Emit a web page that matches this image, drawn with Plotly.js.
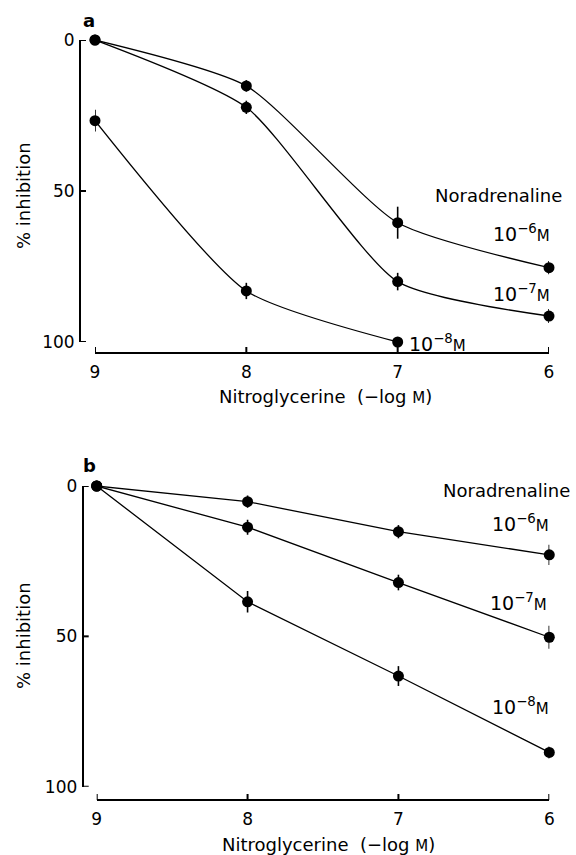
<!DOCTYPE html>
<html>
<head>
<meta charset="utf-8">
<script src="https://cdn.plot.ly/plotly-3.0.1.min.js"></script>
<style>html,body{margin:0;padding:0;background:#fff}#chart{width:576px;height:855px}</style>
</head>
<body>
<div id="chart"></div>
<script>
// ---- data ----
const conc = [9, 8, 7, 6];            // nitroglycerine (-log M)
const concA8 = [9, 8, 7];
const xTicks = [9, 8, 7, 6];
const xTickLabels = ['9', '8', '7', '6'];
const yTicks = [0, 50, 100];
const yTickLabels = ['0', '50', '100'];

// panel a
const a6 = [0, 15.2, 60.5, 75.4];
const a6err = [0, 1.9, 5.3, 2.2];
const a7 = [0, 22.3, 80.0, 91.4];
const a7err = [0, 2.2, 2.9, 2.3];
const a8 = [26.7, 83.1, 100];
const a8err = [3.6, 2.7, 0];

// panel b
const b6 = [0, 5.2, 15.2, 22.9];
const b6err = [0, 2.0, 2.2, 3.4];
const b7 = [0, 13.7, 32.1, 50.3];
const b7err = [0, 2.5, 2.6, 3.8];
const b8 = [0, 38.5, 63.2, 88.6];
const b8err = [0, 3.6, 3.3, 2.0];

const seriesLabels = ['10<sup>−6</sup><span style="font-size:15px">M</span>',
                      '10<sup>−7</sup><span style="font-size:15px">M</span>',
                      '10<sup>−8</sup><span style="font-size:15px">M</span>'];
const legendTitle = 'Noradrenaline';
const xTitle = 'Nitroglycerine  (−log <span style="font-size:15px">M</span>)';
const yTitle = '% inhibition';

// ---- helpers (pixel -> paper) ----
const W = 576, H = 855;
const px = v => v / W;
const py = v => 1 - v / H;
const FONT = 'DejaVu Sans, sans-serif';

function tr(xv, yv, ev, xa, ya, spline) {
  return {
    x: xv, y: yv, xaxis: xa, yaxis: ya, type: 'scatter', mode: 'lines+markers',
    cliponaxis: false, showlegend: false, hoverinfo: 'skip',
    line: {color: '#000', width: 1.3, shape: spline ? 'spline' : 'linear', smoothing: 0.6},
    marker: {color: '#000', size: 11, symbol: 'circle'},
    error_y: {type: 'data', array: ev, visible: true, color: '#000', thickness: 1.6, width: 0}
  };
}

const data = [
  tr(conc, a6, a6err, 'x', 'y', true),
  tr(conc, a7, a7err, 'x', 'y', true),
  tr(concA8, a8, a8err, 'x', 'y', true),
  tr(conc, b6, b6err, 'x2', 'y2', false),
  tr(conc, b7, b7err, 'x2', 'y2', false),
  tr(conc, b8, b8err, 'x2', 'y2', false)
];

function xax(dom, pos) {
  return {
    domain: dom, anchor: 'free', position: pos, range: [9, 6],
    tickmode: 'array', tickvals: xTicks, ticktext: xTickLabels,
    ticks: '', showline: true, linecolor: '#000', linewidth: 2,
    showgrid: false, zeroline: false, fixedrange: true,
    tickfont: {family: FONT, size: 17, color: '#000'}, ticklabelstandoff: 4
  };
}
function yax(dom, pos) {
  return {
    domain: dom, anchor: 'free', position: pos, range: [100, 0],
    tickmode: 'array', tickvals: yTicks, ticktext: yTickLabels,
    ticks: '', showline: true, linecolor: '#000', linewidth: 2,
    showgrid: false, zeroline: false, fixedrange: true,
    tickfont: {family: FONT, size: 17, color: '#000'}, ticklabelstandoff: 1
  };
}

// inside tick marks, placed at the tick values along each free axis line
const TL = 6;
function xTickShapes(xref, linePx) {
  return xTicks.map(t => ({type: 'line', xref: xref, yref: 'paper', x0: t, x1: t,
    y0: py(linePx), y1: py(linePx - TL), line: {color: '#000', width: 2}}));
}
function yTickShapes(yref, linePx) {
  return yTicks.map(t => ({type: 'line', xref: 'paper', yref: yref, y0: t, y1: t,
    x0: px(linePx), x1: px(linePx + TL), line: {color: '#000', width: 2}}));
}

function ann(text, x, y, opts) {
  return Object.assign({
    text: text, x: px(x), y: py(y), xref: 'paper', yref: 'paper',
    showarrow: false, xanchor: 'center', yanchor: 'middle',
    font: {family: FONT, size: 18, color: '#000'}
  }, opts || {});
}
const LBL = {family: FONT, size: 19, color: '#000'};

const annotations = [
  ann('<b>a</b>', 89, 20),
  ann('<b>b</b>', 89, 465),
  ann(yTitle, 23, 196, {textangle: -90}),
  ann(yTitle, 23, 636, {textangle: -90}),
  ann(xTitle, 325, 396),
  ann(xTitle, 328, 844),
  ann(legendTitle, 564, 195, {xanchor: 'right'}),
  ann(seriesLabels[0], 552, 233, {xanchor: 'right', font: LBL}),
  ann(seriesLabels[1], 552, 293, {xanchor: 'right', font: LBL}),
  ann(seriesLabels[2], 407, 343, {xanchor: 'left', font: LBL}),
  ann(legendTitle, 572, 490, {xanchor: 'right'}),
  ann(seriesLabels[0], 551, 523, {xanchor: 'right', font: LBL}),
  ann(seriesLabels[1], 549, 602, {xanchor: 'right', font: LBL}),
  ann(seriesLabels[2], 551, 706, {xanchor: 'right', font: LBL})
];

const layout = {
  width: W, height: H,
  margin: {l: 0, r: 0, t: 0, b: 0, pad: 0},
  paper_bgcolor: '#fff', plot_bgcolor: 'rgba(0,0,0,0)',
  showlegend: false,
  xaxis: xax([px(95), px(549)], py(353)),
  yaxis: yax([py(342), py(40)], px(80)),
  xaxis2: xax([px(96.7), px(549.3)], py(800)),
  yaxis2: yax([py(786.7), py(486)], px(82.7)),
  shapes: [].concat(xTickShapes('x', 353), yTickShapes('y', 80),
                    xTickShapes('x2', 800), yTickShapes('y2', 82.7)),
  annotations: annotations
};

Plotly.newPlot('chart', data, layout, {staticPlot: true, displayModeBar: false});
</script>
</body>
</html>
